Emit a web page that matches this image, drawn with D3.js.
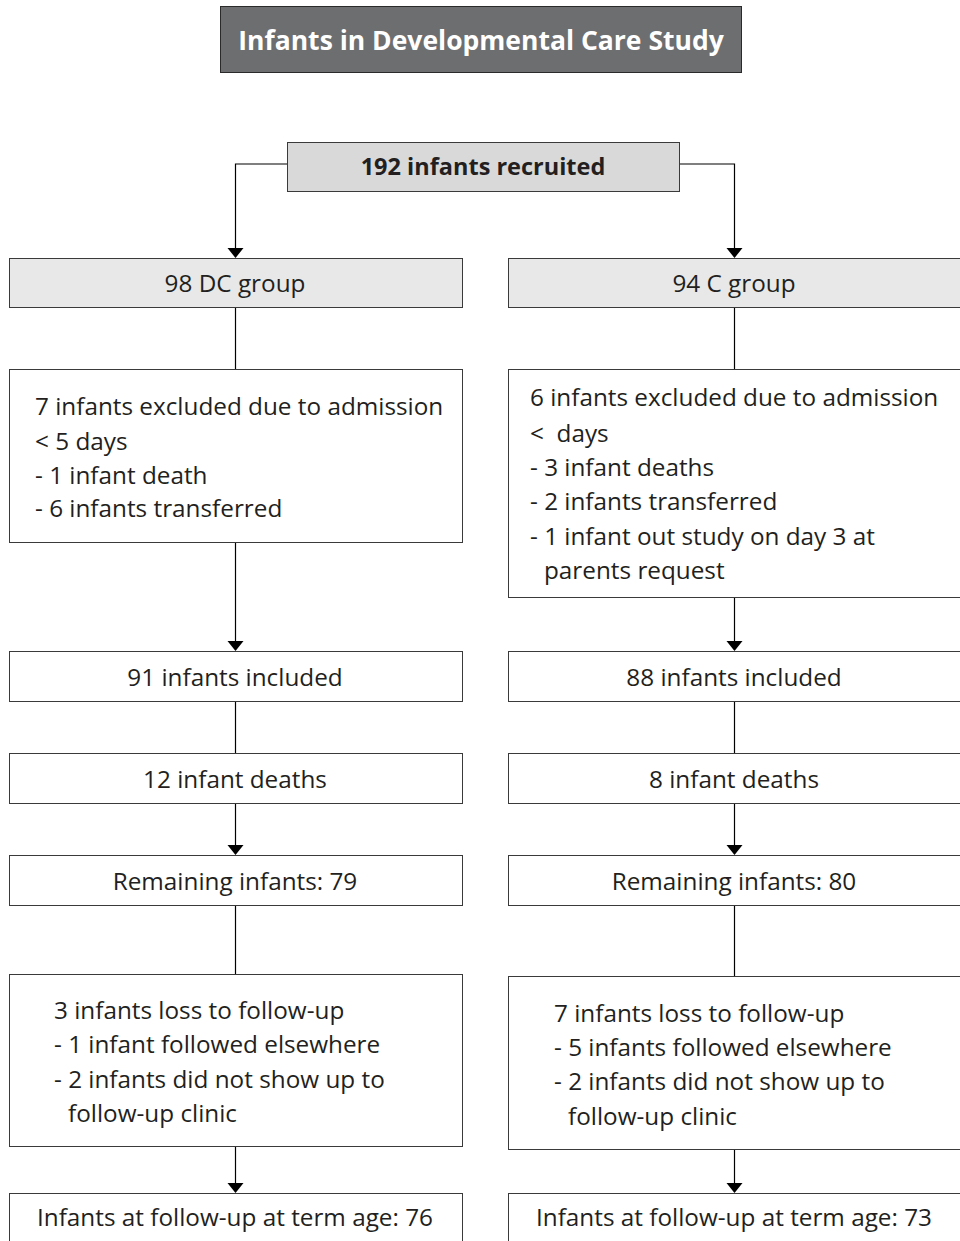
<!DOCTYPE html>
<html><head><meta charset="utf-8">
<script src="https://cdn.jsdelivr.net/npm/d3@7"></script>
<style>html,body{margin:0;padding:0;background:#fff;}svg{display:block;}</style>
</head><body>
<script>
const title = "Infants in Developmental Care Study";
const root = "192 infants recruited";
const groups = ["98 DC group", "94 C group"];
const exclusions = [
  ["7 infants excluded due to admission", "< 5 days", "- 1 infant death", "- 6 infants transferred"],
  ["6 infants excluded due to admission", "<  days", "- 3 infant deaths", "- 2 infants transferred", "- 1 infant out study on day 3 at", "  parents request"]
];
const included = ["91 infants included", "88 infants included"];
const deaths = ["12 infant deaths", "8 infant deaths"];
const remaining = ["Remaining infants: 79", "Remaining infants: 80"];
const losses = [
  ["3 infants loss to follow-up", "- 1 infant followed elsewhere", "- 2 infants did not show up to", "  follow-up clinic"],
  ["7 infants loss to follow-up", "- 5 infants followed elsewhere", "- 2 infants did not show up to", "  follow-up clinic"]
];
const followUp = ["Infants at follow-up at term age: 76", "Infants at follow-up at term age: 73"];

const W = 960, H = 1241;
const svg = d3.select("body").append("svg").attr("width", W).attr("height", H);
const FONT = "'Open Sans', Lato, sans-serif";
const FS = 24.3;
const INK = "#231f20";

const col = d3.scaleOrdinal().domain([0, 1]).range([{x0: 9, x1: 462, cx: 235}, {x0: 508, x1: 961, cx: 734}]);

const rows = {
  group: [[258, 307], [258, 307]],
  excl: [[369, 542], [369, 597]],
  incl: [[651, 701], [651, 701]],
  death: [[753, 803], [753, 803]],
  remain: [[855, 905], [855, 905]],
  loss: [[974, 1146], [976, 1149]],
  follow: [[1193, 1250], [1193, 1250]]
};

function box(x0, y0, x1, y1, fill, stroke) {
  svg.append("rect").attr("x", x0 + 0.5).attr("y", y0 + 0.5).attr("width", x1 - x0).attr("height", y1 - y0)
    .attr("fill", fill).attr("stroke", stroke || "#3a3a3a").attr("stroke-width", 1);
}
function line(pts, arrow) {
  const end = pts[pts.length - 1];
  const p2 = pts.map(d => [d[0] + 0.5, d[1]]);
  if (arrow) p2[p2.length - 1] = [end[0] + 0.5, end[1] - 8];
  svg.append("path").attr("d", d3.line()(p2))
    .attr("fill", "none").attr("stroke", "#000").attr("stroke-width", 1.2);
  if (arrow) {
    const x = end[0] + 0.5, y = end[1];
    svg.append("path").attr("d", `M${x - 8},${y - 10}L${x + 8},${y - 10}L${x},${y}Z`).attr("fill", "#000");
  }
}

// Title
box(220, 6, 741, 72, "#6d6e70", "#2a2a2a");
svg.append("text").attr("x", 481).attr("y", 40).attr("text-anchor", "middle").attr("dominant-baseline", "central")
  .attr("font-family", FONT).attr("font-weight", 700).attr("font-size", 26.5).attr("fill", "#fff").text(title);

// Connectors
line([[287, 164], [235, 164], [235, 258]], true);
line([[679, 164], [734, 164], [734, 258]], true);
[0, 1].forEach(i => {
  const c = col(i);
  line([[c.cx, rows.group[i][1]], [c.cx, rows.excl[i][0]]], false);
  line([[c.cx, rows.excl[i][1]], [c.cx, rows.incl[i][0]]], true);
  line([[c.cx, rows.incl[i][1]], [c.cx, rows.death[i][0]]], false);
  line([[c.cx, rows.death[i][1]], [c.cx, rows.remain[i][0]]], true);
  line([[c.cx, rows.remain[i][1]], [c.cx, rows.loss[i][0]]], false);
  line([[c.cx, rows.loss[i][1]], [c.cx, rows.follow[i][0]]], true);
});

// Root
box(287, 142, 679, 191, "#d9d9d9");
svg.append("text").attr("x", 483).attr("y", 166).attr("text-anchor", "middle").attr("dominant-baseline", "central")
  .attr("font-family", FONT).attr("font-weight", 700).attr("font-size", 23.5).attr("fill", INK).text(root);

function centered(i, r, txt, fill, cy) {
  const c = col(i);
  box(c.x0, r[0], c.x1, r[1], fill);
  svg.append("text").attr("x", c.cx).attr("y", cy || (r[0] + r[1]) / 2).attr("text-anchor", "middle")
    .attr("dominant-baseline", "central").attr("font-family", FONT).attr("font-size", FS).attr("fill", INK).text(txt);
}
function multi(i, r, lines, tx, ys) {
  const c = col(i);
  box(c.x0, r[0], c.x1, r[1], "#fff");
  const t = svg.append("text").attr("font-family", FONT).attr("font-size", FS).attr("fill", INK)
    .style("white-space", "pre");
  lines.forEach((l, k) => {
    const indent = l.startsWith("  ") ? 14 : 0;
    t.append("tspan").attr("x", c.x0 + tx + indent).attr("y", ys[k]).attr("dominant-baseline", "central")
      .style("white-space", "pre").text(l.trim());
  });
}

const exclY = [[405, 440, 474, 507], [396, 432, 466, 500, 535, 569]];
const lossY = [[1009, 1043, 1078, 1112], [1012, 1046, 1080, 1115]];
[0, 1].forEach(i => {
  centered(i, rows.group[i], groups[i], "#e8e8e8");
  multi(i, rows.excl[i], exclusions[i], i ? 22 : 26, exclY[i]);
  centered(i, rows.incl[i], included[i], "#fff");
  centered(i, rows.death[i], deaths[i], "#fff");
  centered(i, rows.remain[i], remaining[i], "#fff");
  multi(i, rows.loss[i], losses[i], i ? 46 : 45, lossY[i]);
  centered(i, rows.follow[i], followUp[i], "#fff", 1216);
});
</script>
</body></html>
